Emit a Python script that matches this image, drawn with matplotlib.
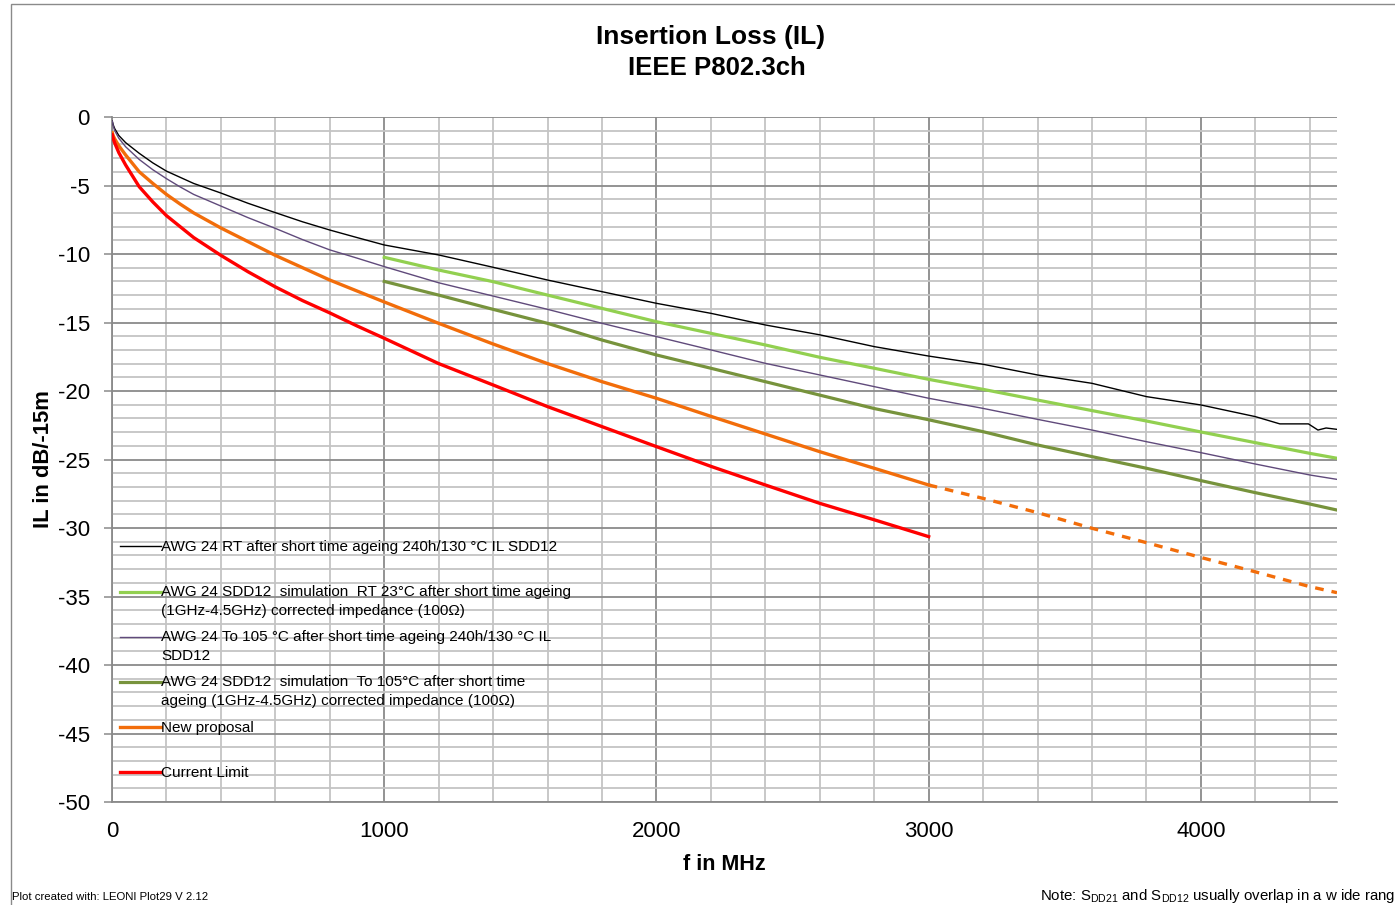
import numpy as np
import matplotlib
matplotlib.use("Agg")
import matplotlib.pyplot as plt
from matplotlib.lines import Line2D
from matplotlib.legend_handler import HandlerLine2D
from matplotlib.patches import Rectangle
from matplotlib.ticker import MultipleLocator

plt.rcParams["font.family"] = ["Liberation Sans", "DejaVu Sans"]
plt.rcParams["axes.unicode_minus"] = False

# --- measured cables (0 .. 4.5 GHz) ---
F_MEAS = [1, 5, 10, 25, 50, 100, 150, 200, 250, 300, 400, 500, 600, 700, 800,
          900, 1000, 1200, 1400, 1600, 1800, 2000, 2200, 2400, 2600, 2800,
          3000, 3200, 3400, 3600, 3800, 4000, 4200, 4290, 4395, 4430, 4460,
          4500]
IL_RT = [-0.3, -0.6, -0.85, -1.35, -1.87, -2.65, -3.35, -3.95, -4.4, -4.85,
         -5.55, -6.3, -6.98, -7.65, -8.25, -8.8, -9.34, -10.07, -10.97,
         -11.9, -12.75, -13.6, -14.33, -15.18, -15.9, -16.76, -17.45, -18.05,
         -18.83, -19.44, -20.41, -21.02, -21.87, -22.4, -22.4, -22.85, -22.7,
         -22.8]

F_MEAS_HOT = [1, 5, 10, 25, 50, 100, 150, 200, 250, 300, 400, 500, 600, 700,
              800, 900, 1000, 1200, 1400, 1600, 1800, 2000, 2200, 2400, 2600,
              2800, 3000, 3200, 3400, 3600, 3800, 4000, 4200, 4400, 4500]
IL_HOT = [-0.3, -0.7, -1.0, -1.55, -2.17, -3.1, -3.85, -4.5, -5.1, -5.65,
          -6.5, -7.35, -8.13, -8.95, -9.7, -10.3, -10.92, -12.1, -13.07,
          -14.04, -15.06, -16.03, -17.0, -17.98, -18.83, -19.68, -20.53,
          -21.27, -22.07, -22.85, -23.7, -24.5, -25.33, -26.13, -26.45]

# --- simulation (1 .. 4.5 GHz) ---
F_SIM = [1000, 1200, 1400, 1600, 1800, 2000, 2200, 2400, 2600, 2800, 3000,
         3200, 3400, 3600, 3800, 4000, 4200, 4400, 4500]
IL_SIM_RT = [-10.24, -11.17, -12.02, -13.0, -13.97, -14.94, -15.79, -16.64,
             -17.54, -18.34, -19.15, -19.88, -20.66, -21.43, -22.19, -22.99,
             -23.77, -24.55, -24.91]
IL_SIM_HOT = [-12.0, -13.0, -14.04, -15.06, -16.28, -17.37, -18.34, -19.32,
              -20.3, -21.28, -22.1, -22.97, -23.94, -24.79, -25.64, -26.54,
              -27.42, -28.25, -28.69]

# --- limits ---
F_LIMIT = [1, 5, 10, 25, 50, 100, 150, 200, 250, 300, 400, 500, 600, 700, 800,
           900, 1000, 1200, 1400, 1600, 1800, 2000, 2200, 2400, 2600, 2800,
           3000, 3200, 3400, 3600, 3800, 4000, 4200, 4400, 4500]
IL_PROPOSAL = [-1.15, -1.4, -1.6, -2.1, -2.77, -4.0, -4.85, -5.65, -6.35,
               -7.0, -8.1, -9.1, -10.1, -11.0, -11.9, -12.7, -13.5, -15.06,
               -16.57, -18.0, -19.32, -20.53, -21.85, -23.14, -24.43, -25.64,
               -26.86, -27.84, -28.88, -30.02, -31.07, -32.15, -33.2, -34.28,
               -34.72]
F_CURRENT = [f for f in F_LIMIT if f <= 3000]
IL_CURRENT = [-1.3, -1.6, -1.9, -2.6, -3.5, -5.09, -6.2, -7.2, -8.0, -8.8,
              -10.1, -11.3, -12.4, -13.4, -14.3, -15.25, -16.15, -18.0,
              -19.56, -21.14, -22.6, -24.06, -25.5, -26.86, -28.2, -29.4,
              -30.63]
F_PROPOSAL_SPEC = 3000   # proposal is specified up to 3 GHz, extrapolated beyond

LABELS = [
    "AWG 24 RT after short time ageing 240h/130 °C IL SDD12",
    "AWG 24 SDD12  simulation  RT 23°C after short time ageing\n"
    "(1GHz-4.5GHz) corrected impedance (100Ω)",
    "AWG 24 To 105 °C after short time ageing 240h/130 °C IL\nSDD12",
    "AWG 24 SDD12  simulation  To 105°C after short time\n"
    "ageing (1GHz-4.5GHz) corrected impedance (100Ω)",
    "New proposal",
    "Current Limit",
]
COLORS = ["#000000", "#92D050", "#604A7B", "#77933C", "#F26D0A", "#FF0000"]


class FirstLineHandler(HandlerLine2D):
    """Legend line drawn next to the first text row instead of the middle."""

    def __init__(self, lift, **kw):
        super().__init__(**kw)
        self.lift = lift

    def create_artists(self, legend, orig_handle, xdescent, ydescent,
                       width, height, fontsize, trans):
        arts = super().create_artists(legend, orig_handle, xdescent, ydescent,
                                      width, height, fontsize, trans)
        for a in arts:
            a.set_ydata(np.asarray(a.get_ydata()) + self.lift * fontsize)
        return arts


fig = plt.figure(figsize=(13.95, 9.05), dpi=100)
ax = fig.add_axes([112 / 1395, 1 - 802 / 905, 1225 / 1395, 685 / 905])

lines = []
lines += ax.plot(F_MEAS, IL_RT, color=COLORS[0], lw=1.0, zorder=4)
lines += ax.plot(F_SIM, IL_SIM_RT, color=COLORS[1], lw=2.3, zorder=3)
lines += ax.plot(F_MEAS_HOT, IL_HOT, color=COLORS[2], lw=1.0, zorder=4)
lines += ax.plot(F_SIM, IL_SIM_HOT, color=COLORS[3], lw=2.3, zorder=3)

f_prop = np.array(F_LIMIT)
il_prop = np.array(IL_PROPOSAL)
spec = f_prop <= F_PROPOSAL_SPEC
extra = f_prop >= F_PROPOSAL_SPEC
lines += ax.plot(f_prop[spec], il_prop[spec], color=COLORS[4], lw=2.4, zorder=3)
ax.plot(f_prop[extra], il_prop[extra], color=COLORS[4], lw=2.4, zorder=3,
        ls=(0, (2.6, 2.4)))
lines += ax.plot(F_CURRENT, IL_CURRENT, color=COLORS[5], lw=2.4, zorder=3)

ax.set_xlim(0, 4500)
ax.set_ylim(-50, 0)
ax.xaxis.set_major_locator(MultipleLocator(1000))
ax.xaxis.set_minor_locator(MultipleLocator(200))
ax.yaxis.set_major_locator(MultipleLocator(5))
ax.yaxis.set_minor_locator(MultipleLocator(1))
ax.set_axisbelow(True)
ax.grid(which="minor", color="#c4c4c4", lw=1.3)
ax.grid(which="major", color="#8a8a8a", lw=1.3)

for side in ["top", "right"]:
    ax.spines[side].set_visible(False)
for side in ["left", "bottom"]:
    ax.spines[side].set_color("#8a8a8a")
    ax.spines[side].set_linewidth(1.3)

ax.tick_params(axis="y", which="major", length=6, width=1.1, color="#8a8a8a",
               labelsize=16, pad=10)
ax.tick_params(axis="x", which="major", length=0, labelsize=16, pad=14)
ax.tick_params(which="minor", length=0)

ax.set_xlabel("f in MHz", fontsize=15.5, fontweight="bold", labelpad=8)
ax.set_ylabel("IL in dB/-15m", fontsize=15.8, fontweight="bold")
ax.yaxis.set_label_coords(-0.047, 0.5)

fig.text(711 / 1395, 1 - 37 / 905, "Insertion Loss (IL)",
         ha="center", va="center", fontsize=19, fontweight="bold")
fig.text(717 / 1395, 1 - 68 / 905, "IEEE P802.3ch",
         ha="center", va="center", fontsize=18.5, fontweight="bold")

leg_labels = [lab if "\n" in lab else lab + "\n" for lab in LABELS]
leg = ax.legend(lines, leg_labels, loc="upper left",
                bbox_to_anchor=(0.0, 0.395), frameon=False, fontsize=11,
                handlelength=2.65, handletextpad=0.0, labelspacing=0.8,
                borderaxespad=0.15,
                handler_map={Line2D: FirstLineHandler(0.66)})
for t in leg.get_texts():
    t.set_linespacing(1.45)

fig.text(12 / 1395, 1 - 897 / 905, "Plot created with: LEONI Plot29 V 2.12",
         fontsize=8.2, va="center", ha="left")
# footnote runs up to the right border of the page
fig.text(1040 / 1395, 1 - 896 / 905,
         r"Note: S$_{\mathregular{DD21}}$ and S$_{\mathregular{DD12}}$ "
         "usually overlap in a w ide rang",
         fontsize=10.8, va="center", ha="left")

fig.patches.append(Rectangle((11 / 1395, -0.01), 1.0, 1 - 4 / 905 + 0.01,
                             transform=fig.transFigure, fill=False,
                             edgecolor="#8a8a8a", lw=1.0))

fig.savefig("out.png", dpi=100)
